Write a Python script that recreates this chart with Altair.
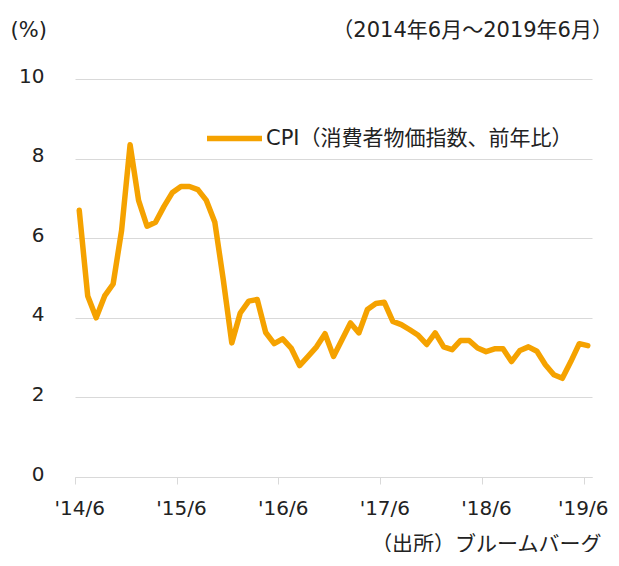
import json
import altair as alt
import pandas as pd

# CPI year-on-year (%), monthly 2014/6 .. 2019/6
cpi = [6.7, 4.55, 4.0, 4.55, 4.85, 6.2, 8.35, 6.95, 6.3, 6.4,
       6.8, 7.15, 7.3, 7.3, 7.22, 6.95, 6.4, 4.95, 3.37, 4.12,
       4.42, 4.46, 3.63, 3.35, 3.47, 3.24, 2.8, 3.03, 3.27, 3.6,
       3.03, 3.45, 3.87, 3.62, 4.21, 4.36, 4.39, 3.91, 3.83, 3.70,
       3.56, 3.33, 3.62, 3.27, 3.20, 3.43, 3.43, 3.24, 3.15, 3.22,
       3.22, 2.90, 3.18, 3.27, 3.16, 2.82, 2.57, 2.48, 2.90, 3.35, 3.30]
months = list(pd.date_range("2014-06-01", periods=len(cpi), freq="MS").strftime("%Y-%m"))
x_tick_labels = ["'14/6", "'15/6", "'16/6", "'17/6", "'18/6", "'19/6"]
y_ticks = [0, 2, 4, 6, 8, 10]
series_name = "CPI（消費者物価指数、前年比）"
unit_text = "(%)"
period_text = "（2014年6月～2019年6月）"
source_text = "（出所）ブルームバーグ"

ORANGE = "#F5A200"
GRID = "#d9d9d9"
TEXT = "#222222"
FONT = "DejaVu Sans, Noto Sans CJK JP"
FS_TICK = 20
FS_TEXT = 21

df = pd.DataFrame({"idx": list(range(len(cpi))), "month": months,
                   "value": cpi, "series": series_name})

W, H = 517, 398
half = W / len(cpi) / 2
tick_idx = [12 * i for i in range(len(x_tick_labels))]
last_tick = tick_idx[-1]

chart = alt.Chart(df).mark_line(
    strokeWidth=5.5, strokeJoin="round", strokeCap="round"
).encode(
    x=alt.X("idx:Q",
            scale=alt.Scale(domain=[-0.5, len(cpi) - 0.5], nice=False, zero=False),
            axis=alt.Axis(values=tick_idx,
                          labelExpr=f"{json.dumps(x_tick_labels)}[round(datum.value/12)]",
                          tickOffset=-half,
                          labelOffset={"condition": {"test": f"datum.value == {last_tick}",
                                                     "value": half - 5},
                                       "value": half},
                          grid=False, domainColor=GRID, tickColor=GRID,
                          tickSize=7, labelPadding=14, labelFontSize=FS_TICK,
                          labelFont=FONT, labelColor=TEXT,
                          title=source_text, titleFont=FONT, titleFontSize=FS_TEXT,
                          titleFontWeight="normal", titleColor=TEXT,
                          titleAlign="right", titleBaseline="middle",
                          titleX=526, titleY=67)),
    y=alt.Y("value:Q",
            scale=alt.Scale(domain=[0, 10], nice=False),
            axis=alt.Axis(values=y_ticks, grid=True, gridColor=GRID, gridWidth=1,
                          domain=False, ticks=False, labelPadding=31,
                          labelFontSize=FS_TICK, labelFont=FONT, labelColor=TEXT,
                          labelOffset=-3,
                          title=unit_text, titleAngle=0, titleFont=FONT,
                          titleFontSize=FS_TEXT, titleFontWeight="normal", titleColor=TEXT,
                          titleAlign="left", titleBaseline="middle",
                          titleX=-65, titleY=-49)),
    color=alt.Color("series:N", scale=alt.Scale(range=[ORANGE]),
                    legend=alt.Legend(title=None, orient="none", legendX=129, legendY=29,
                                      symbolType="stroke", symbolSize=3025,
                                      symbolStrokeWidth=5.5, labelFont=FONT,
                                      labelFontSize=FS_TEXT, labelColor=TEXT,
                                      labelLimit=0, labelOffset=1, padding=0)),
).properties(
    width=W, height=H,
    title=alt.TitleParams(period_text, anchor="end", font=FONT, fontSize=FS_TEXT,
                          fontWeight="normal", color=TEXT, dx=5, dy=22, offset=0),
    autosize=alt.AutoSizeParams(type="none"),
    padding={"left": 67, "top": 71, "right": 19, "bottom": 75},
).configure_view(stroke=None)

chart.save("out.html", embed_options={"renderer": "svg", "actions": False})
